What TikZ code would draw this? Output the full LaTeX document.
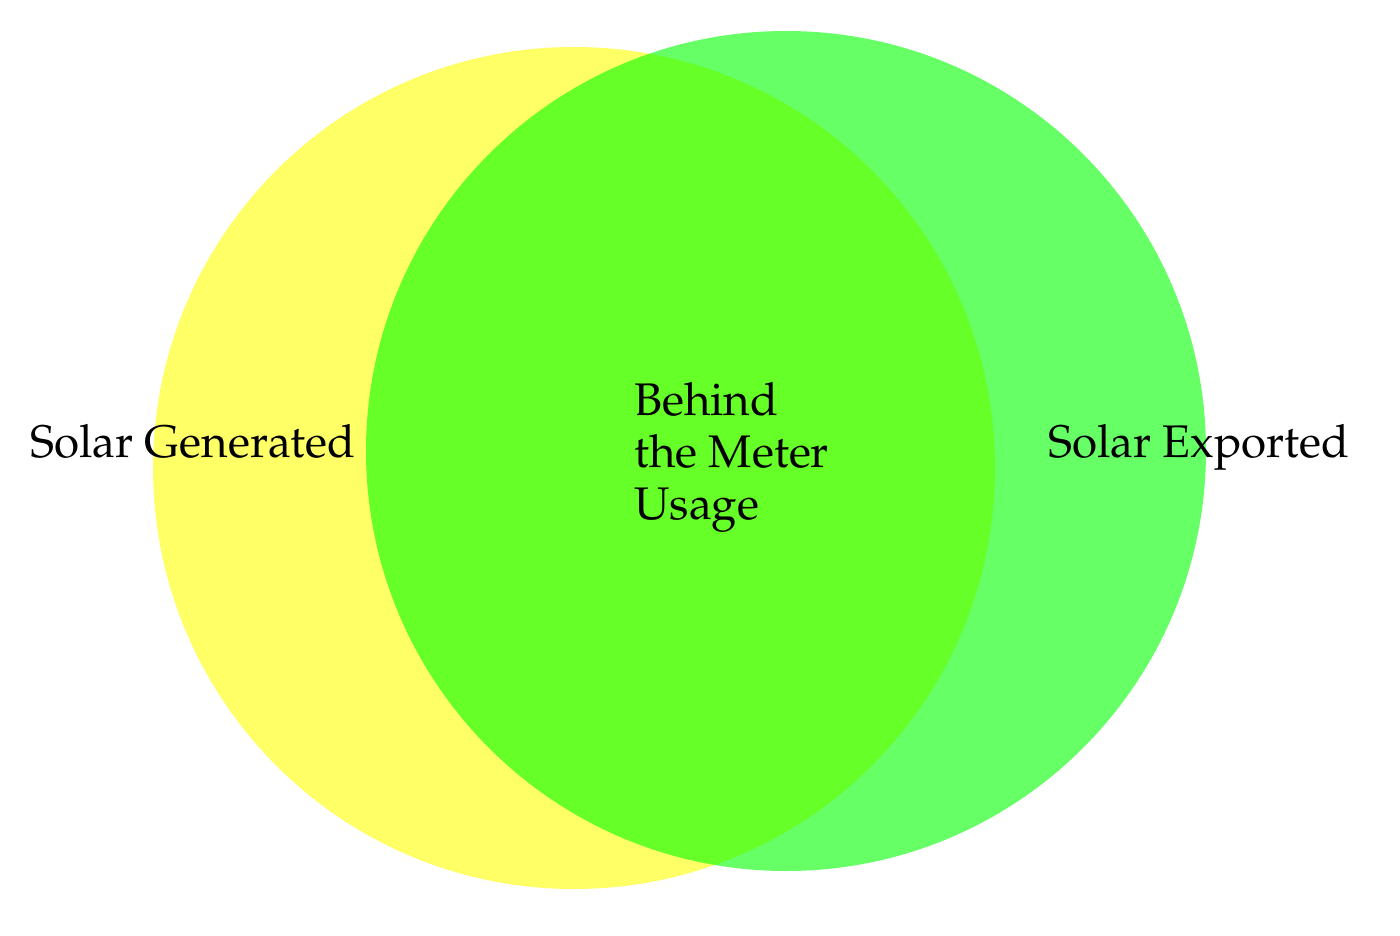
\documentclass[tikz,border=0pt]{standalone}
\usepackage[T1]{fontenc}
\usepackage{mathpazo}
\definecolor{vyellow}{RGB}{255,255,0}
\definecolor{vgreen}{RGB}{0,255,0}
\begin{document}
\begin{tikzpicture}[x=1pt,y=-1pt,
  venn/.style={draw=none,fill opacity=0.6},
  lbl/.style={inner sep=0pt,font=\fontsize{45.7}{52}\selectfont,text=black}]
\useasboundingbox (0,0) rectangle (1400,936);
\fill[white] (0,0) rectangle (1400,936);
\fill[venn,fill=vyellow] (574,468) circle[radius=421];
\fill[venn,fill=vgreen] (786,451) circle[radius=420];
\node[lbl,anchor=base west] (gen) at (30,457) {Solar Generated};
\node[lbl,anchor=base west] (exp) at (1048,457) {Solar Exported};
\node[lbl,anchor=base west,align=left] (btm) at (634,519) {Behind\\the Meter\\Usage};
\end{tikzpicture}
\end{document}
